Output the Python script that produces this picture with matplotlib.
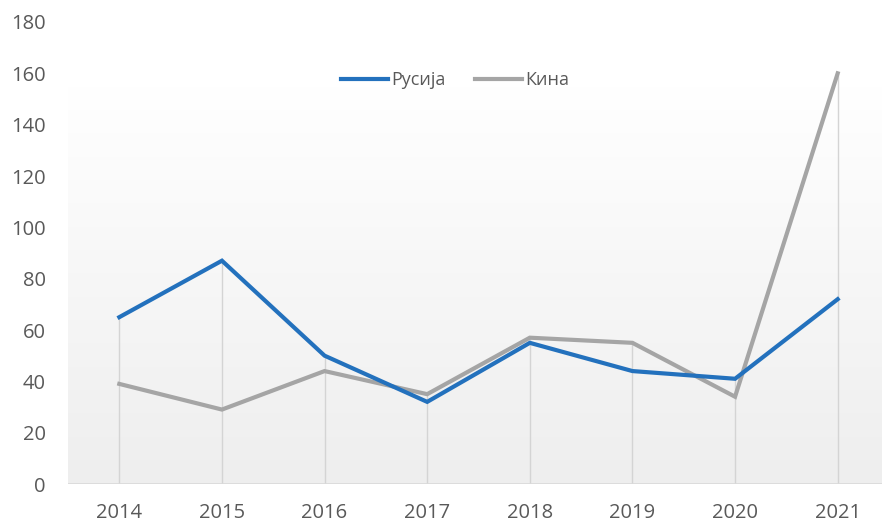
import numpy as np
from matplotlib import pyplot as plt

plt.rcParams['font.family'] = ['Open Sans', 'DejaVu Sans']

years = ['2014', '2015', '2016', '2017', '2018', '2019', '2020', '2021']
russia = [65, 87, 50, 32, 55, 44, 41, 72]
china = [39, 29, 44, 35, 57, 55, 34, 160]

fig = plt.figure(figsize=(8.82, 5.22), dpi=100)
ax = fig.add_axes([68 / 882, 38 / 522, 821 / 882, 462 / 522])

x = np.arange(len(years))
ax.set_xlim(-0.5, len(years) - 0.5)
ax.set_ylim(0, 180)

# gradient background of the plot area
grad = np.linspace(0, 1, 256).reshape(-1, 1)
ax.imshow(grad, extent=(-0.5, len(years) - 0.5, 0, 155), aspect='auto',
          cmap=plt.matplotlib.colors.LinearSegmentedColormap.from_list(
              'bg', ['#eeeeee', '#ffffff']), origin='lower', zorder=0)

# drop lines
tops = np.maximum(russia, china)
ax.vlines(x, 0, tops, color='#d4d4d4', lw=1, zorder=1)

ax.plot(x, russia, color='#2371bd', lw=3, label='Русија', zorder=3,
        solid_joinstyle='miter')
ax.plot(x, china, color='#a5a5a5', lw=3, label='Кина', zorder=2,
        solid_joinstyle='miter')

ax.axhline(0, color='#d9d9d9', lw=1.2, zorder=1)

ax.set_xticks(x)
ax.set_xticklabels(years)
ax.set_yticks(range(0, 181, 20))
ax.tick_params(length=0, labelsize=14.5, colors='#595959')
ax.tick_params(axis='x', pad=14)
ax.tick_params(axis='y', pad=16)
for s in ax.spines.values():
    s.set_visible(False)

ax.legend(loc='center', bbox_to_anchor=(455 / 882, 1 - 80 / 522),
          bbox_transform=fig.transFigure, ncol=2, frameon=False,
          fontsize=13, labelcolor='#595959', handlelength=2.6,
          handletextpad=0.2, columnspacing=1.6)

fig.savefig('out.png', dpi=100)
